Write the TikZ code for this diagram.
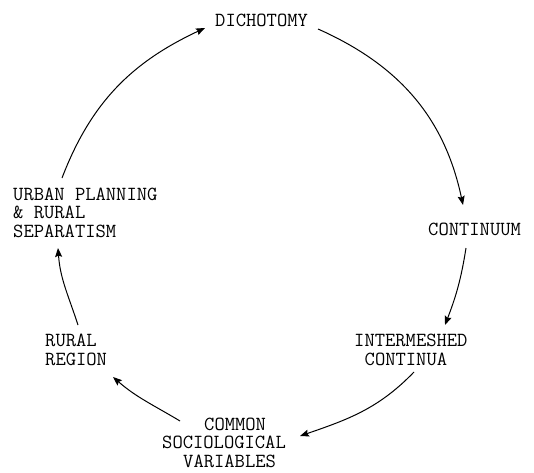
\documentclass[tikz,border=0pt]{standalone}
\usepackage{fontspec}
\usetikzlibrary{arrows.meta}
\begin{document}
\begin{tikzpicture}[x=1pt,y=1pt,
  lbl/.style={inner sep=0pt, anchor=base west, align=left,
    font=\ttfamily\fontsize{20}{18.5}\selectfont},
  conn/.style={-{Stealth[length=9pt,width=7pt,inset=1.5pt]}, line width=1pt}]
\useasboundingbox (0,0) rectangle (534,472);
\node[lbl] (dich) at (215,445) {DICHOTOMY};
\node[lbl] (cont) at (428,237) {CONTINUUM};
\node[lbl] (urb) at (13,235) {URBAN PLANNING\\\& RURAL\\SEPARATISM};
\node[lbl] (rur) at (45,107) {RURAL\\REGION};
\node[lbl] (int) at (354,107) {INTERMESHED\\\hspace*{10.5pt}CONTINUA};
\node[lbl] (com) at (162,5) {\hspace*{42pt}COMMON\\SOCIOLOGICAL\\\hspace*{21pt}VARIABLES};
\draw[conn] ([shift={(49,59)}]urb.base west) to[out=69,in=205] ([shift={(-10,-1)}]dich.base west);
\draw[conn] ([shift={(103,-2)}]dich.base west) to[out=-24,in=102] ([shift={(35,30)}]cont.base west);
\draw[conn] ([shift={(38,-13)}]cont.base west) to[out=-99,in=69] ([shift={(91,40)}]int.base west);
\draw[conn] ([shift={(60,-7)}]int.base west) to[out=226,in=19] ([shift={(138,31)}]com.base west);
\draw[conn] ([shift={(18,46)}]com.base west) to[out=149,in=319] ([shift={(68,-12)}]rur.base west);
\draw[conn] ([shift={(33,40)}]rur.base west) to[out=108,in=274] ([shift={(45,-11)}]urb.base west);
\end{tikzpicture}
\end{document}
